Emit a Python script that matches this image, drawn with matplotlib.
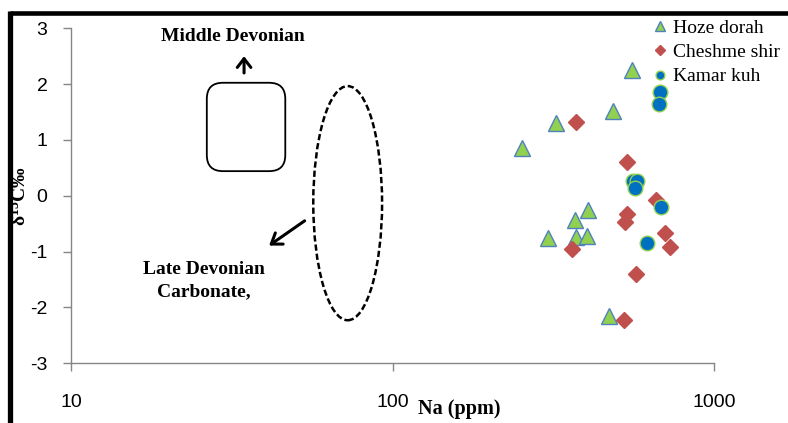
import matplotlib
matplotlib.use("Agg")
import matplotlib.pyplot as plt
from matplotlib.patches import Ellipse, FancyBboxPatch
from matplotlib.lines import Line2D
from matplotlib.ticker import FixedLocator, FixedFormatter
import numpy as np

plt.rcParams["axes.unicode_minus"] = False
plt.rcParams["mathtext.fontset"] = "custom"
plt.rcParams["mathtext.rm"] = "Liberation Serif"
plt.rcParams["mathtext.bf"] = "Liberation Serif:bold"

# Na (ppm) and d13C values
hoze_na = [555, 484, 322, 252, 405, 369, 304, 372, 402, 471]
hoze_c = [2.25, 1.52, 1.30, 0.86, -0.25, -0.43, -0.76, -0.74, -0.72, -2.15]

cheshme_na = [371, 535, 659, 535, 528, 360, 703, 728, 571, 525]
cheshme_c = [1.32, 0.61, -0.08, -0.33, -0.47, -0.95, -0.67, -0.92, -1.40, -2.22]

kamar_na = [678, 673, 559, 575, 567, 683, 618]
kamar_c = [1.86, 1.64, 0.26, 0.26, 0.14, -0.20, -0.85]

x_ticks = [10, 100, 1000]
x_labels = ["10", "100", "1000"]
y_ticks = [-3, -2, -1, 0, 1, 2, 3]

W, H = 788, 423
fig = plt.figure(figsize=(W / 100, H / 100), dpi=100)
ax = fig.add_axes([71.1 / W, 1 - 363.3 / H, 643.2 / W, 335.0 / H])

ax.plot(hoze_na, hoze_c, linestyle="none", marker="^", markersize=11,
        markerfacecolor="#92D050", markeredgecolor="#4F81BD", markeredgewidth=1,
        label="Hoze dorah")
ax.plot(cheshme_na, cheshme_c, linestyle="none", marker="D", markersize=8,
        markerfacecolor="#C0504D", markeredgecolor="#C0504D", markeredgewidth=1,
        label="Cheshme shir")
ax.plot(kamar_na, kamar_c, linestyle="none", marker="o", markersize=10.5,
        markerfacecolor="#0070C0", markeredgecolor="#92D050", markeredgewidth=1,
        label="Kamar kuh")

ax.set_xscale("log")
ax.set_xlim(10, 1000)
ax.set_ylim(-3, 3)
ax.xaxis.set_major_locator(FixedLocator(x_ticks))
ax.xaxis.set_major_formatter(FixedFormatter(x_labels))
ax.xaxis.set_minor_locator(FixedLocator([]))
ax.set_yticks(y_ticks)
ax.set_yticklabels([str(v) for v in y_ticks])

for s in ["top", "right"]:
    ax.spines[s].set_visible(False)
for s in ["left", "bottom"]:
    ax.spines[s].set_color("#868686")
    ax.spines[s].set_linewidth(1.0)
ax.tick_params(axis="both", colors="#868686", length=6, width=1,
               labelcolor="black", labelsize=14)
ax.tick_params(axis="x", pad=16)
ax.tick_params(axis="y", pad=11)
for lab in ax.get_xticklabels() + ax.get_yticklabels():
    lab.set_family("Liberation Sans")

ax.set_xlabel("Na (ppm)", family="Liberation Serif", fontweight="bold",
              fontsize=14.5, va="center")
ax.xaxis.set_label_coords(0.603, -0.136)
ax.set_ylabel(r"$\mathbf{\delta^{13}C}$‰", family="Liberation Serif",
              fontweight="bold", fontsize=14)
ax.yaxis.set_label_coords(-0.063, 0.5)

# annotations
ax.text(31.9, 2.86, "Middle Devonian", family="Liberation Serif",
        fontweight="bold", fontsize=14, ha="center", va="center")
ax.annotate("", xy=(34.5, 2.55), xytext=(34.5, 2.15),
            arrowprops=dict(arrowstyle="->,head_length=0.45,head_width=0.35",
                            color="black", lw=2.2, mutation_scale=14))
box = FancyBboxPatch((0.231, 0.612), 0.082, 0.187,
                     boxstyle="round,pad=0.02,rounding_size=0.025",
                     transform=ax.transAxes, fill=False, edgecolor="black",
                     lw=1.3, mutation_aspect=643.2 / 335.0)
ax.add_patch(box)
ax.add_patch(Ellipse((0.430, 0.478), 0.107, 0.699, transform=ax.transAxes,
                     fill=False, edgecolor="black", lw=1.8,
                     linestyle=(0, (2.5, 1.2))))
ax.annotate("", xy=(40.6, -0.92), xytext=(54.1, -0.42),
            arrowprops=dict(arrowstyle="->,head_length=0.5,head_width=0.35",
                            color="black", lw=2.2, mutation_scale=14))
ax.text(25.9, -1.52, "Late Devonian\nCarbonate,", family="Liberation Serif",
        fontweight="bold", fontsize=14, ha="center", va="center",
        linespacing=1.35)

ax.legend(loc="upper left", bbox_to_anchor=(652 / W, 1 - 19 / H),
          bbox_transform=fig.transFigure, frameon=False, markerscale=0.6,
          handlelength=0.8, handletextpad=0.3, borderpad=0, borderaxespad=0,
          labelspacing=0.35, prop={"family": "Liberation Serif", "size": 14})

# outer frame
fig.add_artist(Line2D([10 / W, 1.0], [1 - 13 / H, 1 - 13 / H],
                      transform=fig.transFigure, color="black", lw=3.3,
                      solid_capstyle="butt"))
fig.add_artist(Line2D([10 / W, 10 / W], [0, 1 - 11 / H],
                      transform=fig.transFigure, color="black", lw=3.8,
                      solid_capstyle="butt"))

fig.savefig("out.png", dpi=100)
